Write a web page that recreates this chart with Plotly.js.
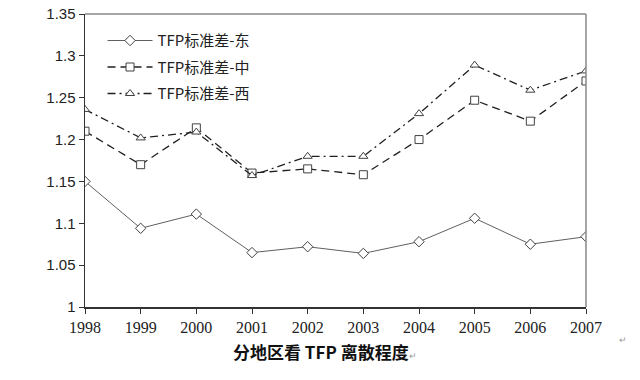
<!DOCTYPE html>
<html><head><meta charset="utf-8">
<script src="https://cdn.plot.ly/plotly-3.0.1.min.js"></script>
<style>body{margin:0;background:#fff}#c{width:640px;height:380px}</style>
</head><body><div id="c"></div>
<script>
const years = [1998,1999,2000,2001,2002,2003,2004,2005,2006,2007];
const east  = [1.150,1.094,1.111,1.065,1.072,1.064,1.078,1.106,1.075,1.084];
const mid   = [1.210,1.170,1.214,1.160,1.165,1.158,1.200,1.247,1.222,1.270];
const west  = [1.236,1.202,1.209,1.157,1.180,1.180,1.231,1.289,1.259,1.282];
const names = ['TFP标准差-东','TFP标准差-中','TFP标准差-西'];
const yTicks = [1,1.05,1.1,1.15,1.2,1.25,1.3,1.35];
const yTickText = ['1','1.05','1.1','1.15','1.2','1.25','1.3','1.35'];
const chartTitle = '分地区看 TFP 离散程度';

const lc = '#404040';
function tr(y, name, dash, sym, w, g){
  return {x: years, y: y, name: name, legendgroup: g, type:'scatter', mode:'lines+markers',
    line:{color: dash==='solid' ? '#606060' : '#202020', width: w, dash: dash},
    marker:{symbol: sym, size: 8, color:'#fff', line:{color: lc, width:1}}};
}
const data = [
  tr(east, names[0], 'solid', 'diamond', 1, 'a'),
  tr(mid, names[1], '8px,5px', 'square', 1.3, 'b'),
  tr(west, names[2], '8px,4px,2px,4px', 'triangle-up', 1.3, 'c')
];
const layout = {
  width:640, height:380,
  margin:{l:85, r:54, t:14, b:73},
  paper_bgcolor:'#fff', plot_bgcolor:'#fff',
  font:{family:'Liberation Sans, Arial, sans-serif', color:'#222'},
  showlegend:true,
  legend:{x:0.035, y:0.965, xanchor:'left', yanchor:'top', bgcolor:'rgba(0,0,0,0)',
    font:{family:'Noto Sans CJK SC, sans-serif', size:15, color:'#222'}, itemwidth:45, tracegroupgap:4},
  xaxis:{range:[1998,2007], tickvals:years, ticktext:years.map(String), showgrid:false, zeroline:false,
    showline:true, linecolor:'#333', linewidth:1.5, ticks:'outside', ticklen:5, tickcolor:'#333',
    tickfont:{family:'Liberation Serif, serif', size:16, color:'#222'}},
  yaxis:{range:[1,1.35], tickvals:yTicks, ticktext:yTickText, showgrid:false, zeroline:false,
    showline:true, linecolor:'#333', linewidth:1.5, ticks:'outside', ticklen:5, tickcolor:'#333',
    tickfont:{family:'Liberation Sans, sans-serif', size:15, color:'#222'}},
  shapes:[
    {type:'line', xref:'paper', yref:'paper', x0:0, x1:1, y0:1, y1:1, line:{color:'#888', width:1.5}},
    {type:'line', xref:'paper', yref:'paper', x0:1, x1:1, y0:0, y1:1, line:{color:'#888', width:1.5}}
  ],
  annotations:[
    {text: '<b>' + chartTitle + '</b><span style="font-size:9px;color:#999">↵</span>', xref:'paper', yref:'paper', x:0.48, y:-0.153, xanchor:'center', yanchor:'middle', showarrow:false,
     font:{family:'Noto Sans CJK SC, sans-serif', size:17, color:'#111'}},
    {text:'↵', xref:'paper', yref:'paper', x:1.085, y:-0.135, showarrow:false, font:{size:9, color:'#999'}}
  ]
};
Plotly.newPlot('c', data, layout, {staticPlot:true});
</script></body></html>
